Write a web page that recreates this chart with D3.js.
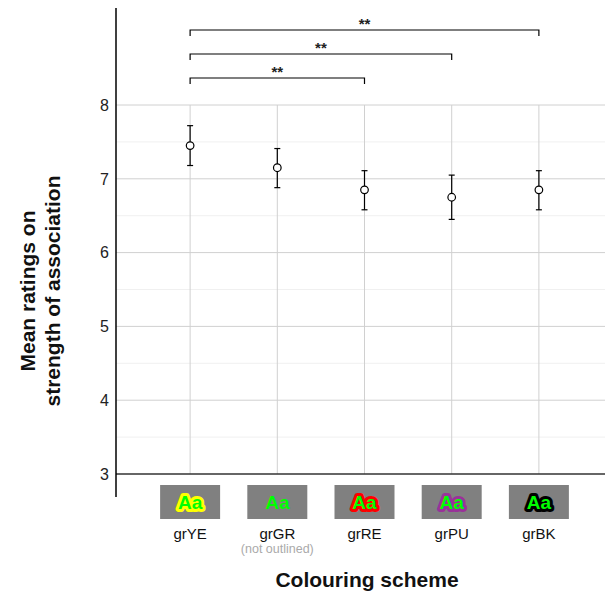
<!DOCTYPE html>
<html><head><meta charset="utf-8">
<script src="https://cdn.jsdelivr.net/npm/d3@7"></script>
<style>body{margin:0;background:#fff;}svg{display:block;font-family:Arial,"Liberation Sans",sans-serif;}</style>
</head><body>
<svg id="c" width="605" height="596"></svg>
<script>
const categories = ["grYE","grGR","grRE","grPU","grBK"];
const means = [7.45, 7.15, 6.85, 6.75, 6.85];
const lower = [7.18, 6.88, 6.58, 6.45, 6.58];
const upper = [7.72, 7.41, 7.11, 7.05, 7.11];
const outlineColors = ["#ffff00", null, "#ff0000", "#993399", "#000000"];
const subLabels = ["", "(not outlined)", "", "", ""];
const yTicks = [3,4,5,6,7,8];
const minorTicks = [3.5,4.5,5.5,6.5,7.5];
const comparisons = [["grYE","grRE","**"],["grYE","grPU","**"],["grYE","grBK","**"]];

const svg = d3.select("#c");
const y = d3.scaleLinear().domain([3,8]).range([474,105]);
const x = d3.scalePoint().domain(categories).range([116,613]).padding(0.85);
const W = 605;

// minor grid
svg.append("g").selectAll("line").data(minorTicks).join("line")
  .attr("x1",116).attr("x2",W).attr("y1",d=>y(d)).attr("y2",d=>y(d))
  .attr("stroke","#f0f0f0").attr("stroke-width",1);
// major grid
svg.append("g").selectAll("line").data(yTicks.slice(1)).join("line")
  .attr("x1",116).attr("x2",W).attr("y1",d=>y(d)).attr("y2",d=>y(d))
  .attr("stroke","#d0d0d0").attr("stroke-width",1);
// vertical grid
svg.append("g").selectAll("line").data(categories).join("line")
  .attr("x1",d=>x(d)).attr("x2",d=>x(d)).attr("y1",y(8)).attr("y2",y(3))
  .attr("stroke","#d0d0d0").attr("stroke-width",1);

// axes lines
svg.append("line").attr("x1",116).attr("x2",W).attr("y1",y(3)).attr("y2",y(3))
  .attr("stroke","#333").attr("stroke-width",1.5);
svg.append("line").attr("x1",116).attr("x2",116).attr("y1",8).attr("y2",497)
  .attr("stroke","#000").attr("stroke-width",1.5);

// y tick labels
svg.append("g").selectAll("text").data(yTicks).join("text")
  .attr("x",109).attr("y",d=>y(d)).attr("dy","0.36em").attr("text-anchor","end")
  .attr("font-size",16).attr("fill","#222").text(d=>d);

// error bars
const eb = svg.append("g").attr("stroke","#000").attr("stroke-width",1.2).attr("fill","none");
categories.forEach((c,i)=>{
  const cx = x(c);
  eb.append("line").attr("x1",cx).attr("x2",cx).attr("y1",y(upper[i])).attr("y2",y(lower[i]));
  eb.append("line").attr("x1",cx-3).attr("x2",cx+3).attr("y1",y(upper[i])).attr("y2",y(upper[i]));
  eb.append("line").attr("x1",cx-3).attr("x2",cx+3).attr("y1",y(lower[i])).attr("y2",y(lower[i]));
  eb.append("circle").attr("cx",cx).attr("cy",y(means[i])).attr("r",3.8).attr("fill","#fff");
});

// brackets
comparisons.forEach((cmp,k)=>{
  const by = 78 - k*24;
  const x1 = x(cmp[0]), x2 = x(cmp[1]);
  svg.append("path").attr("d",`M${x1},${by+6}V${by}H${x2}V${by+6}`)
    .attr("fill","none").attr("stroke","#000").attr("stroke-width",1.2);
  svg.append("text").attr("x",(x1+x2)/2).attr("y",by-1).attr("text-anchor","middle")
    .attr("font-size",15).attr("font-weight","bold").attr("fill","#222").text(cmp[2]);
});

// icons
categories.forEach((c,i)=>{
  const cx = x(c);
  svg.append("rect").attr("x",cx-30).attr("y",485).attr("width",60).attr("height",34).attr("fill","#808080");
  const t = svg.append("text").attr("x",cx).attr("y",502).attr("dy","0.36em").attr("text-anchor","middle")
    .attr("font-size",19).attr("font-weight","bold").attr("fill","#00ff00").text("Aa");
  if (outlineColors[i]) {
    t.attr("stroke",outlineColors[i]).attr("stroke-width",6).attr("stroke-linejoin","round").attr("paint-order","stroke");
  }
  svg.append("text").attr("x",cx).attr("y",539).attr("text-anchor","middle")
    .attr("font-size",15).attr("fill","#111").text(c);
  if (subLabels[i]) svg.append("text").attr("x",cx).attr("y",553).attr("text-anchor","middle")
    .attr("font-size",12.5).attr("fill","#aaa").text(subLabels[i]);
});

// axis titles
svg.append("text").attr("x",367).attr("y",587).attr("text-anchor","middle")
  .attr("font-size",21).attr("font-weight","bold").attr("fill","#111").text("Colouring scheme");
const yt = svg.append("text").attr("transform","translate(0,291) rotate(-90)")
  .attr("text-anchor","middle").attr("font-size",21).attr("font-weight","bold").attr("fill","#111");
yt.append("tspan").attr("x",0).attr("y",35).text("Mean ratings on");
yt.append("tspan").attr("x",0).attr("y",60).text("strength of association");
</script>
</body></html>
